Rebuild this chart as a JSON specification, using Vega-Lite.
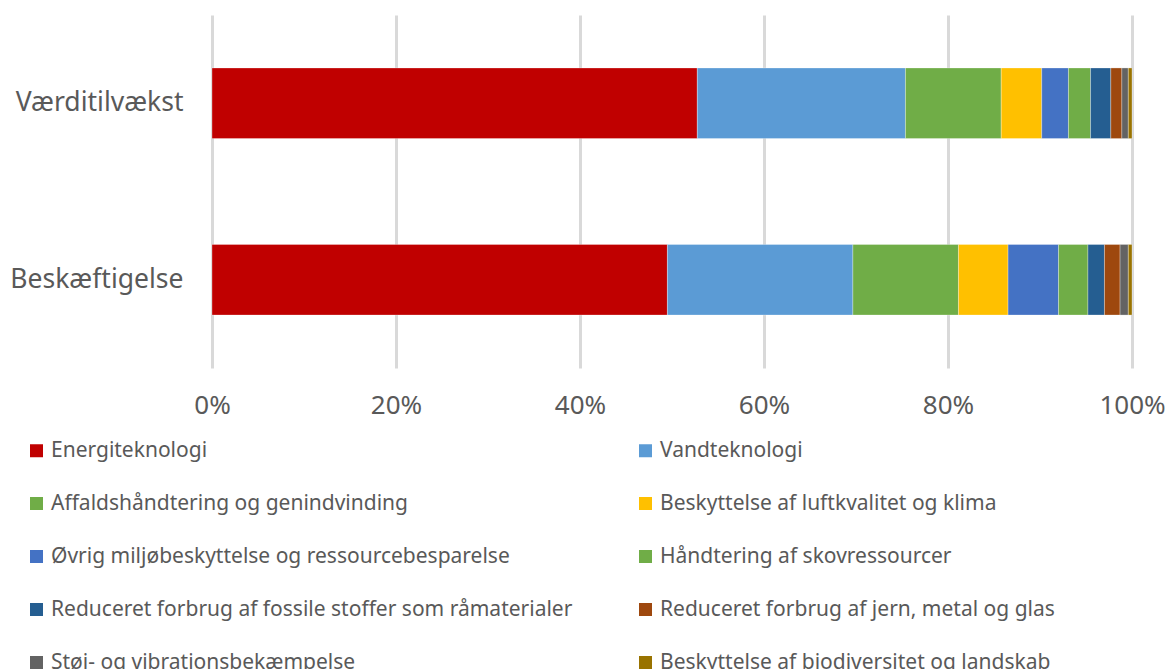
{
  "$schema": "https://vega.github.io/schema/vega-lite/v6.json",
  "width": 920,
  "height": 353,
  "autosize": "none",
  "padding": {"left": 212, "top": 15, "right": 38, "bottom": 301},
  "background": "white",
  "config": {
    "view": {"stroke": null},
    "font": "Noto Sans",
    "axis": {"labelFont": "Noto Sans", "labelColor": "#595959"},
    "legend": {"labelFont": "Noto Sans", "labelColor": "#595959"}
  },
  "data": {
    "values": [
      {"kat": "Værditilvækst", "type": "Energiteknologi", "idx": 1, "pct": 52.7},
      {"kat": "Værditilvækst", "type": "Vandteknologi", "idx": 2, "pct": 22.6},
      {"kat": "Værditilvækst", "type": "Affaldshåndtering og genindvinding", "idx": 3, "pct": 10.4},
      {"kat": "Værditilvækst", "type": "Beskyttelse af luftkvalitet og klima", "idx": 4, "pct": 4.4},
      {"kat": "Værditilvækst", "type": "Øvrig miljøbeskyttelse og ressourcebesparelse", "idx": 5, "pct": 2.9},
      {"kat": "Værditilvækst", "type": "Håndtering af skovressourcer", "idx": 6, "pct": 2.4},
      {"kat": "Værditilvækst", "type": "Reduceret forbrug af fossile stoffer som råmaterialer", "idx": 7, "pct": 2.2},
      {"kat": "Værditilvækst", "type": "Reduceret forbrug af jern, metal og glas", "idx": 8, "pct": 1.2},
      {"kat": "Værditilvækst", "type": "Støj- og vibrationsbekæmpelse", "idx": 9, "pct": 0.7},
      {"kat": "Værditilvækst", "type": "Beskyttelse af biodiversitet og landskab", "idx": 10, "pct": 0.4},
      {"kat": "Beskæftigelse", "type": "Energiteknologi", "idx": 1, "pct": 49.6},
      {"kat": "Beskæftigelse", "type": "Vandteknologi", "idx": 2, "pct": 20.2},
      {"kat": "Beskæftigelse", "type": "Affaldshåndtering og genindvinding", "idx": 3, "pct": 11.5},
      {"kat": "Beskæftigelse", "type": "Beskyttelse af luftkvalitet og klima", "idx": 4, "pct": 5.4},
      {"kat": "Beskæftigelse", "type": "Øvrig miljøbeskyttelse og ressourcebesparelse", "idx": 5, "pct": 5.5},
      {"kat": "Beskæftigelse", "type": "Håndtering af skovressourcer", "idx": 6, "pct": 3.2},
      {"kat": "Beskæftigelse", "type": "Reduceret forbrug af fossile stoffer som råmaterialer", "idx": 7, "pct": 1.8},
      {"kat": "Beskæftigelse", "type": "Reduceret forbrug af jern, metal og glas", "idx": 8, "pct": 1.7},
      {"kat": "Beskæftigelse", "type": "Støj- og vibrationsbekæmpelse", "idx": 9, "pct": 0.9},
      {"kat": "Beskæftigelse", "type": "Beskyttelse af biodiversitet og landskab", "idx": 10, "pct": 0.4}
    ]
  },
  "mark": {"type": "bar", "stroke": "white", "strokeWidth": 0.5, "strokeOpacity": 0.6},
  "encoding": {
    "y": {
      "field": "kat",
      "type": "nominal",
      "sort": ["Værditilvækst", "Beskæftigelse"],
      "scale": {"paddingInner": 0.6, "paddingOuter": 0.3},
      "axis": {
        "title": null,
        "domain": false,
        "ticks": false,
        "grid": false,
        "labelFontSize": 26.5,
        "labelPadding": 29,
        "labelLimit": 300
      }
    },
    "x": {
      "field": "pct",
      "type": "quantitative",
      "stack": "normalize",
      "scale": {"domain": [0, 1], "nice": false},
      "axis": {
        "title": null,
        "format": "%",
        "values": [0, 0.2, 0.4, 0.6, 0.8, 1],
        "domain": false,
        "ticks": false,
        "grid": true,
        "gridColor": "#D9D9D9",
        "gridWidth": 3,
        "labelFontSize": 26,
        "labelPadding": 24,
        "labelFlush": false
      }
    },
    "color": {
      "field": "type",
      "type": "nominal",
      "scale": {
        "domain": [
          "Energiteknologi",
          "Vandteknologi",
          "Affaldshåndtering og genindvinding",
          "Beskyttelse af luftkvalitet og klima",
          "Øvrig miljøbeskyttelse og ressourcebesparelse",
          "Håndtering af skovressourcer",
          "Reduceret forbrug af fossile stoffer som råmaterialer",
          "Reduceret forbrug af jern, metal og glas",
          "Støj- og vibrationsbekæmpelse",
          "Beskyttelse af biodiversitet og landskab"
        ],
        "range": ["#C00000", "#5B9BD5", "#70AD47", "#FFC000", "#4472C4", "#70AD47", "#255E91", "#9E480E", "#636363", "#997300"]
      },
      "legend": {
        "title": null,
        "orient": "none",
        "direction": "horizontal",
        "legendX": -186,
        "legendY": 425,
        "columns": 2,
        "columnPadding": 62,
        "rowPadding": 31,
        "symbolType": "square",
        "symbolSize": 169,
        "symbolStrokeWidth": 0,
        "symbolOpacity": 1,
        "labelFontSize": 21,
        "labelOffset": 4,
        "labelLimit": 600,
        "gridAlign": "all"
      }
    },
    "order": {"field": "idx", "type": "quantitative"}
  }
}
